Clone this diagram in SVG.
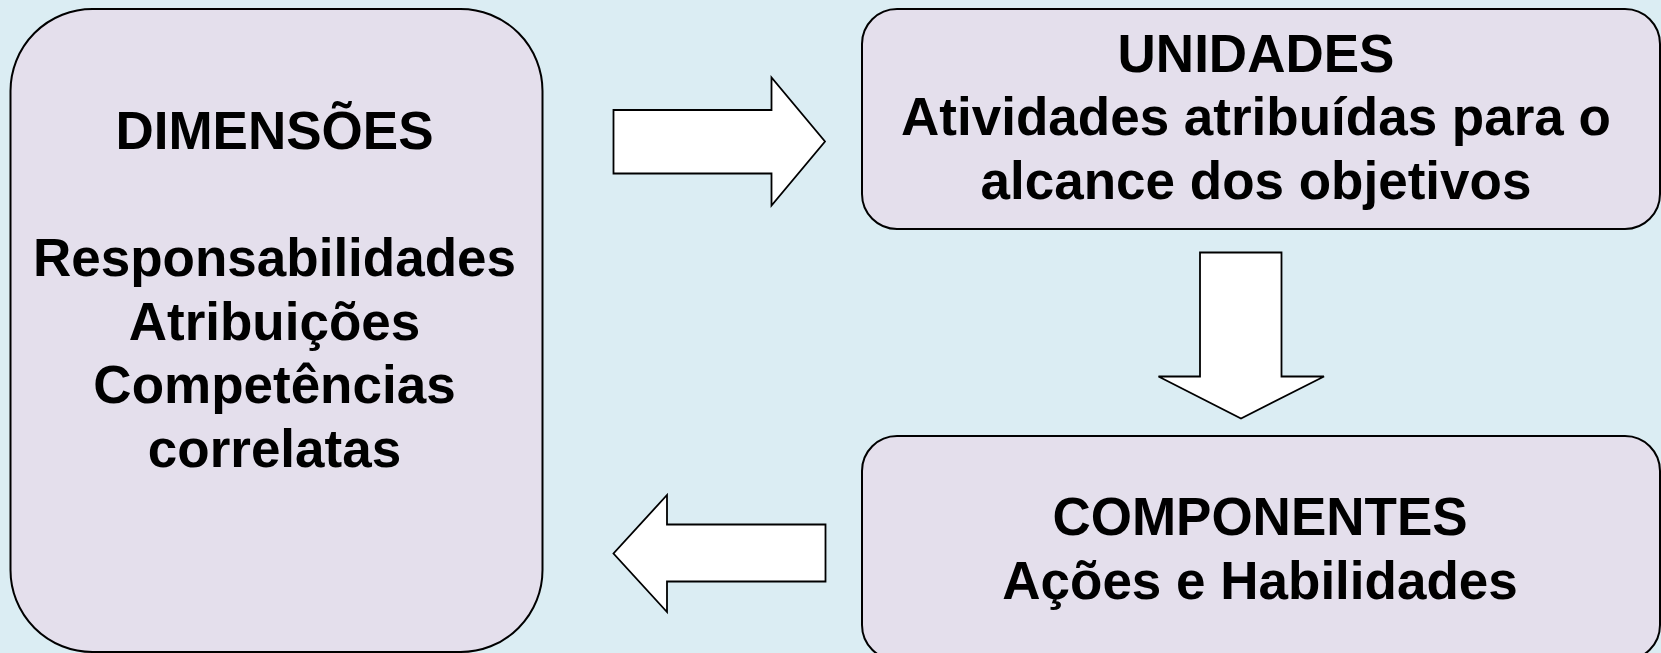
<svg xmlns="http://www.w3.org/2000/svg" width="1661" height="653" viewBox="0 0 1661 653">
<style>
.box{fill:#E4DFEC;stroke:#000;stroke-width:2}
.arr{fill:#FFFFFF;stroke:#000;stroke-width:1.8;stroke-linejoin:miter}
.t{font-family:"Liberation Sans",Arial,sans-serif;font-weight:bold;font-size:53px;fill:#000;text-anchor:middle}
</style>
<rect x="0" y="0" width="1661" height="653" fill="#DBEDF3"/>
<g id="dimensoes">
<rect class="box" x="10.5" y="9" width="532" height="643" rx="82" ry="82"/>
<text class="t" x="274.5" y="148.5">DIMENSÕES</text>
<text class="t" x="274.5" y="276">Responsabilidades</text>
<text class="t" x="274.5" y="339.5">Atribuições</text>
<text class="t" x="274.5" y="403">Competências</text>
<text class="t" x="274.5" y="466.5">correlatas</text>
</g>
<g id="unidades">
<rect class="box" x="862" y="9" width="798" height="220" rx="35" ry="35"/>
<text class="t" x="1256" y="71.5">UNIDADES</text>
<text class="t" x="1256" y="135">Atividades atribuídas para o</text>
<text class="t" x="1256" y="198.5">alcance dos objetivos</text>
</g>
<g id="componentes">
<rect class="box" x="862" y="436" width="798" height="224" rx="35" ry="35"/>
<text class="t" x="1260" y="535">COMPONENTES</text>
<text class="t" x="1260" y="598.5">Ações e Habilidades</text>
</g>
<g id="connectors">
<polygon class="arr" points="613.5,110 771.5,110 771.5,77.5 825,141.5 771.5,205.5 771.5,173.5 613.5,173.5"/>
<polygon class="arr" points="1200,252.5 1281.5,252.5 1281.5,376.5 1324,376.5 1241,418.5 1158.5,376.5 1200,376.5"/>
<polygon class="arr" points="825.5,524.5 667,524.5 667,495 613.5,553.5 667,612 667,581.5 825.5,581.5"/>
</g>
</svg>
